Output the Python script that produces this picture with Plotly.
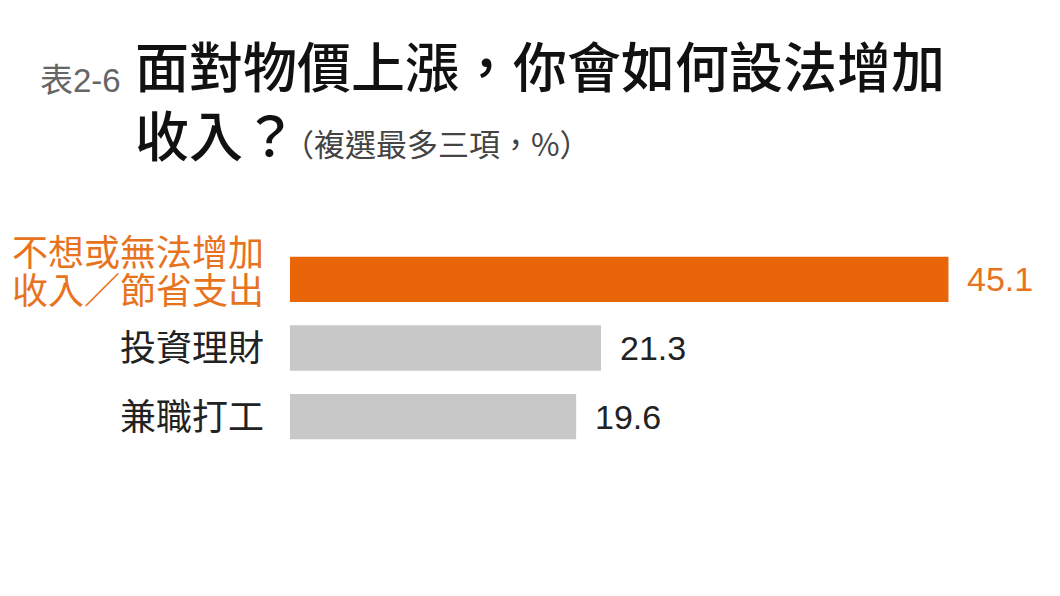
import plotly.graph_objects as go

# --- Data ---
categories = ["不想或無法增加<br>收入／節省支出", "投資理財", "兼職打工"]
values = [45.1, 21.3, 19.6]
highlight = [True, False, False]

ORANGE = "#E8650A"
ORANGE_TXT = "#E8731E"
GRAY = "#C8C8C8"
DARK = "#222222"
CJK = "Noto Sans CJK TC"
LATIN = "Liberation Sans, Noto Sans CJK TC"

# the page puts the figure 8px in from the corner, so work in page pixels
OFF = 8
W, H = 1060 - OFF, 596 - OFF
L, T = 290 - OFF, 244.5 - OFF
PW, PH = 730, 207
R, B = W - L - PW, H - T - PH


def px_x(px):
    return (px - OFF - L) / PW


def px_y(py):
    return 1 - (py - OFF - T) / PH


bar_colors = [ORANGE if h else GRAY for h in highlight]
txt_colors = [ORANGE_TXT if h else DARK for h in highlight]

fig = go.Figure(go.Bar(
    x=values,
    y=categories,
    orientation="h",
    marker=dict(color=bar_colors, line=dict(width=0)),
    width=0.66,
    hoverinfo="skip",
))

annotations = []

# category labels, left of the bars (multi-line labels drawn line by line, tight leading)
for cat, col in zip(categories, txt_colors):
    lines = cat.split("<br>")
    n = len(lines)
    for i, line in enumerate(lines):
        annotations.append(dict(
            x=0, y=cat, xref="x", yref="y",
            text=line, showarrow=False,
            xanchor="right", yanchor="middle",
            xshift=-24, yshift=(29 - i * 38) if n > 1 else 3,
            font=dict(family=CJK, size=36, color=col),
        ))

# value labels, right of the bars
for cat, v, col in zip(categories, values, txt_colors):
    annotations.append(dict(
        x=v, y=cat, xref="x", yref="y",
        text=f"{v:.1f}", showarrow=False,
        xanchor="left", yanchor="middle", xshift=17,
        font=dict(family=LATIN, size=34, color=col),
    ))

# title block
annotations += [
    dict(x=px_x(38), y=px_y(79), xref="paper", yref="paper",
         text="表2-6", showarrow=False, xanchor="left", yanchor="middle",
         font=dict(family=LATIN, size=33, color="#666666")),
    dict(x=px_x(133), y=px_y(63.5), xref="paper", yref="paper",
         text="面對物價上漲，你會如何設法增加", showarrow=False,
         xanchor="left", yanchor="middle",
         font=dict(family=CJK, size=54, color="#111111", weight=500)),
    dict(x=px_x(133), y=px_y(132.5), xref="paper", yref="paper",
         text="收入？", showarrow=False,
         xanchor="left", yanchor="middle",
         font=dict(family=CJK, size=54, color="#111111", weight=500)),
    dict(x=px_x(281), y=px_y(141), xref="paper", yref="paper",
         text="（複選最多三項，%）", showarrow=False,
         xanchor="left", yanchor="middle",
         font=dict(family=CJK, size=31, color="#444444")),
]

fig.update_layout(
    width=W, height=H,
    margin=dict(l=L, r=R, t=T, b=B),
    paper_bgcolor="white", plot_bgcolor="white",
    showlegend=False,
    annotations=annotations,
    xaxis=dict(range=[0, 50], visible=False, fixedrange=True),
    yaxis=dict(categoryorder="array", categoryarray=categories,
               range=[2.5, -0.5], visible=False, fixedrange=True),
)

fig.write_html("out.html", config={"displayModeBar": False})
